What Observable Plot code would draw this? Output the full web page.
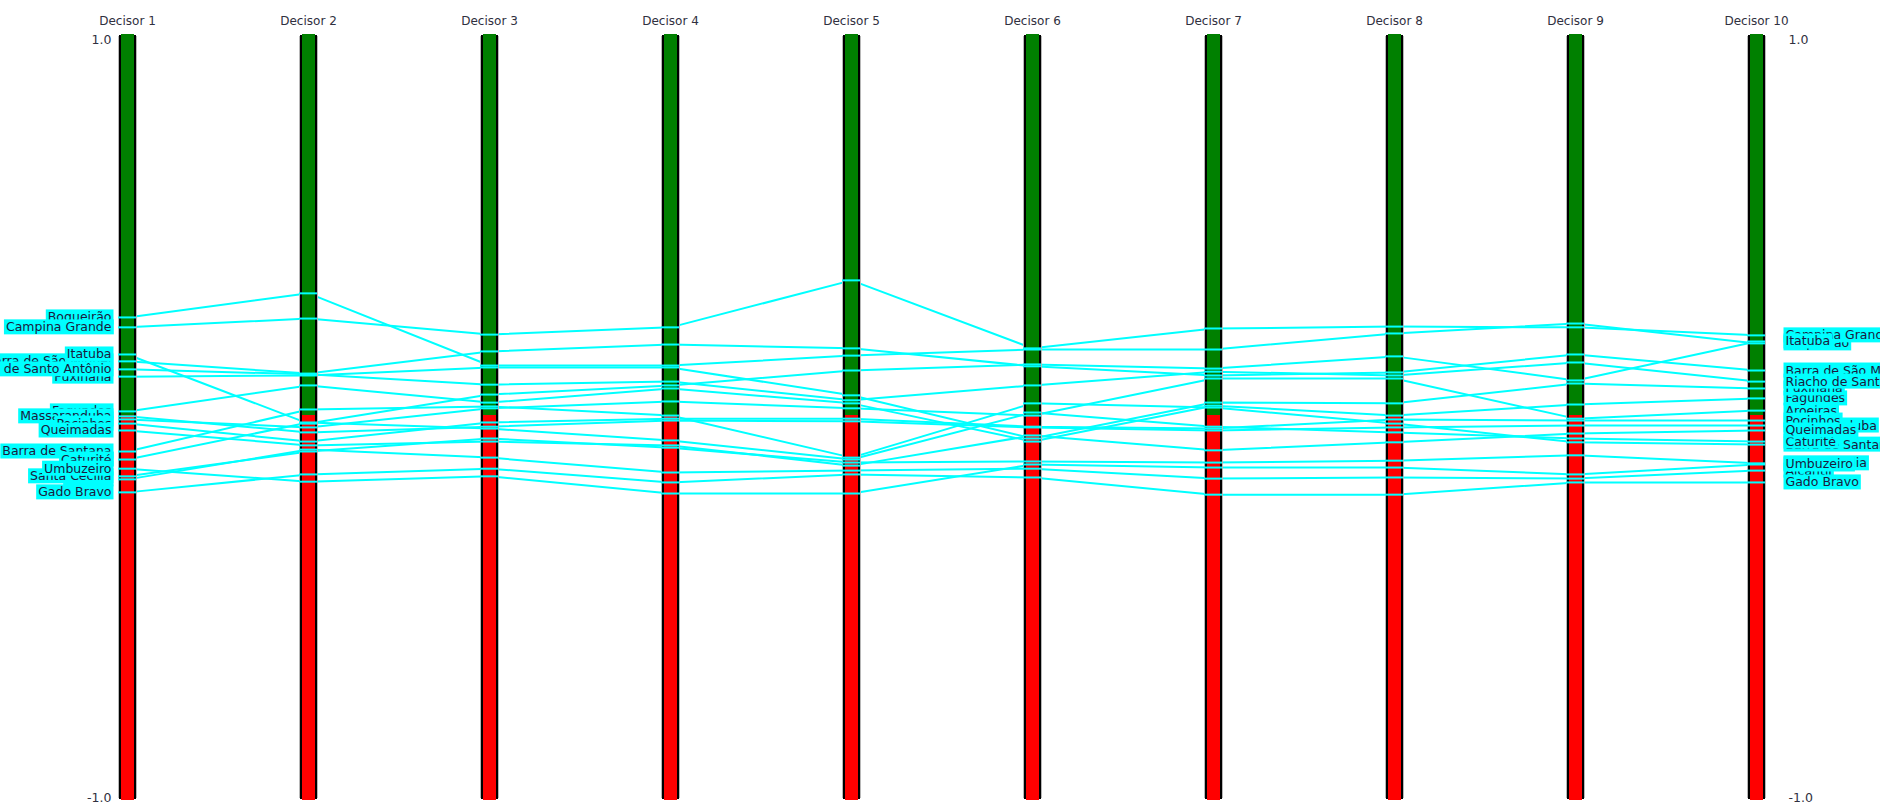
<!DOCTYPE html>
<html><head><meta charset="utf-8">
<script src="https://cdn.jsdelivr.net/npm/d3@7"></script>
<script src="https://cdn.jsdelivr.net/npm/@observablehq/plot@0.6"></script>
<style>
html,body{margin:0;padding:0;background:#fff;}
#chart svg{display:block;overflow:hidden;}
</style></head><body><div id="chart"></div>
<script>
const decisors = ["Decisor 1","Decisor 2","Decisor 3","Decisor 4","Decisor 5","Decisor 6","Decisor 7","Decisor 8","Decisor 9","Decisor 10"];
const alternatives = ["Alcantil","Aroeiras","Barra de Santana","Barra de São Miguel","Boqueirão","Campina Grande","Caturité","Fagundes","Gado Bravo","Itatuba","Massaranduba","Pocinhos","Puxinanã","Queimadas","Riacho de Santo Antônio","Santa Cecília","Umbuzeiro"];
// net flows per decisor, in the order of `alternatives`
const decisor1  = [-0.162,-0.005,-0.089,0.147,0.262,0.236,-0.110,0.016,-0.196,0.165,0.003,-0.016,0.107,-0.034,0.126,-0.154,-0.134];
const decisor2  = [-0.084,-0.026,0.021,0.115,0.325,0.259,-0.013,0.084,-0.149,-0.016,-0.039,-0.063,0.110,-0.073,0.113,-0.089,-0.168];
const decisor3  = [-0.105,0.024,0.029,0.173,0.136,0.217,-0.029,0.039,-0.134,0.060,-0.024,-0.013,0.131,-0.063,0.086,-0.055,-0.154];
const decisor4  = [-0.144,0.042,0.005,0.191,0.136,0.236,-0.060,0.076,-0.170,0.084,-0.008,-0.003,0.131,-0.073,0.094,-0.079,-0.199];
const decisor5  = [-0.139,0.024,-0.105,0.181,0.162,0.359,-0.110,0.037,-0.149,0.123,-0.010,-0.003,0.058,-0.126,0.045,-0.118,-0.199];
const decisor6  = [-0.134,0.005,0.037,0.134,0.178,0.181,0.013,-0.063,-0.157,0.139,-0.026,-0.024,-0.055,-0.047,0.084,-0.115,-0.123];
const decisor7  = [-0.160,0.102,0.026,0.110,0.178,0.233,-0.024,0.031,-0.202,0.128,-0.034,-0.029,0.039,-0.086,0.120,-0.118,-0.131];
const decisor8  = [-0.157,0.102,-0.016,0.118,0.220,0.238,-0.039,0.005,-0.202,0.160,-0.026,-0.005,0.037,-0.065,0.110,-0.113,-0.131];
const decisor9  = [-0.160,-0.003,-0.065,0.165,0.246,0.236,-0.055,0.034,-0.170,0.097,-0.021,-0.008,0.089,-0.042,0.144,-0.099,-0.149];
const decisor10 = [-0.139,0.018,-0.071,0.123,0.194,0.215,-0.063,0.050,-0.170,0.199,-0.021,-0.008,0.076,-0.034,0.094,-0.120,-0.123];
const flows = [decisor1,decisor2,decisor3,decisor4,decisor5,decisor6,decisor7,decisor8,decisor9,decisor10];
const topTick = [1];
const bottomTick = [-1];

const rows = [];
decisors.forEach((d, i) => alternatives.forEach((a, j) => rows.push({decisor: d, alternative: a, flow: flows[i][j]})));
const firstRows = rows.filter(r => r.decisor === decisors[0]);
const lastRows = rows.filter(r => r.decisor === decisors[decisors.length - 1]);
const fmt = d => d.toFixed(1);
const first = decisors[0], last = decisors[decisors.length - 1];

const chart = Plot.plot({
  width: 1880, height: 804, margin: 0,
  style: {fontFamily: "'DejaVu Sans', sans-serif", background: "#fff", overflow: "hidden"},
  x: {type: "point", domain: decisors, range: [124.5, 1759], padding: 0, axis: null},
  y: {domain: [-1, 1], range: [799, 35], axis: null},
  marks: [
    Plot.line(rows, {x: "decisor", y: "flow", z: "alternative", stroke: "#00ffff", strokeWidth: 2}),
    Plot.ruleX(decisors, {x: d => d, y1: -1, y2: 1, stroke: "#b8b8b8", strokeWidth: 19, insetTop: -1, insetBottom: -1}),
    Plot.ruleX(decisors, {x: d => d, y1: -1, y2: 1, stroke: "#000", strokeWidth: 17}),
    Plot.ruleX(decisors, {x: d => d, y1: 0, y2: 1, stroke: "#008000", strokeWidth: 13, insetTop: 2, insetBottom: 1}),
    Plot.ruleX(decisors, {x: d => d, y1: -1, y2: 0, stroke: "#ff0000", strokeWidth: 13, insetTop: 1, insetBottom: 2}),
    Plot.ruleY(rows, {y: "flow", x1: "decisor", x2: "decisor", stroke: "#00ffff", strokeWidth: 2, insetLeft: -9, insetRight: -9}),
    Plot.text(decisors, {x: d => d, frameAnchor: "top", dy: 16, text: d => d, fontSize: 12, fill: "#303040"}),
    Plot.text(topTick, {x: () => first, y: d => d, text: d => fmt(d), textAnchor: "end", dx: -16, dy: 4, fontSize: 12.5, fill: "#303040"}),
    Plot.text(bottomTick, {x: () => first, y: d => d, text: d => fmt(d), textAnchor: "end", dx: -16, dy: -2, fontSize: 12.5, fill: "#303040"}),
    Plot.text(topTick, {x: () => last, y: d => d, text: d => fmt(d), textAnchor: "start", dx: 32, dy: 4, fontSize: 12.5, fill: "#303040"}),
    Plot.text(bottomTick, {x: () => last, y: d => d, text: d => fmt(d), textAnchor: "start", dx: 32, dy: -2, fontSize: 12.5, fill: "#303040"}),
    Plot.text(firstRows, {x: "decisor", y: "flow", text: "alternative", textAnchor: "end", dx: -16, fontSize: 12.5, fill: "#1a1a40"}),
    Plot.text(lastRows, {x: "decisor", y: "flow", text: "alternative", textAnchor: "start", dx: 29, fontSize: 12.5, fill: "#1a1a40"})
  ]
});
document.getElementById("chart").appendChild(chart);

// cyan label backgrounds, drawn just below each label so later labels cover earlier ones
const labelSet = new Set(alternatives);
const groups = Array.from(chart.querySelectorAll("g")).filter(g => {
  const texts = Array.from(g.children).filter(c => c.tagName === "text");
  return texts.length === alternatives.length && texts.every(t => labelSet.has(t.textContent));
});
for (const g of groups) {
  Array.from(g.children).filter(c => c.tagName === "text").forEach(t => {
    const b = t.getBBox();
    const r = document.createElementNS("http://www.w3.org/2000/svg", "rect");
    r.setAttribute("x", b.x - 2);
    r.setAttribute("y", b.y);
    r.setAttribute("width", b.width + 4);
    r.setAttribute("height", b.height);
    r.setAttribute("fill", "#00ffff");
    const tr = t.getAttribute("transform");
    if (tr) r.setAttribute("transform", tr);
    g.insertBefore(r, t);
  });
}
</script></body></html>
